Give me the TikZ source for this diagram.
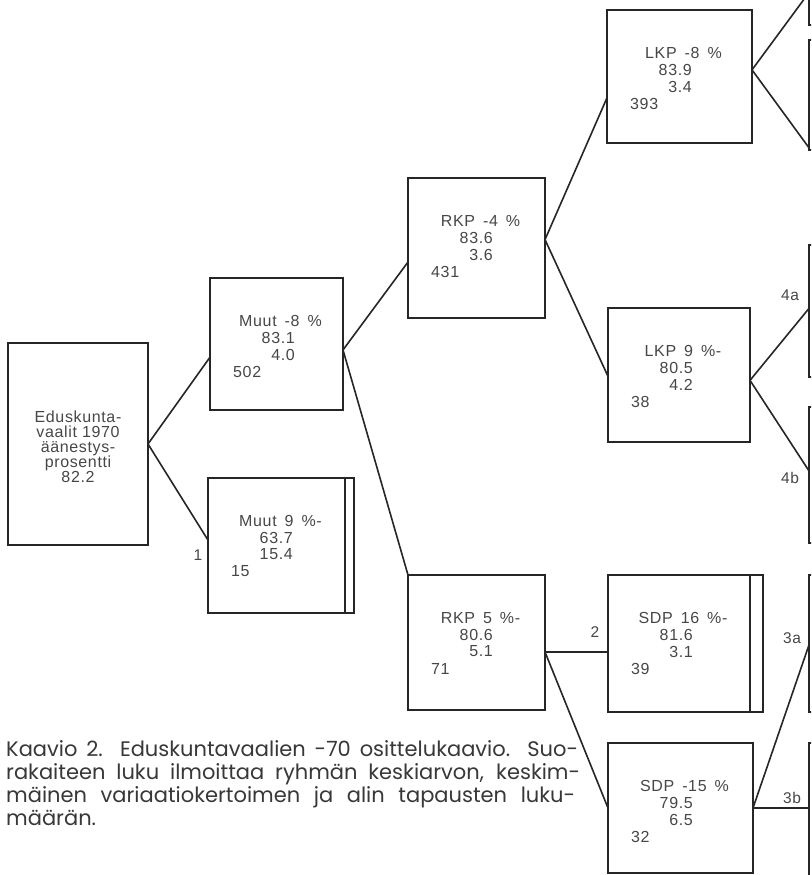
\documentclass[tikz,border=0pt]{standalone}
\usepackage{fontspec}
\setmainfont{Liberation Sans}[LetterSpace=4]
\newfontfamily\capfont{Poppins}
\usetikzlibrary{calc}
\definecolor{ink}{gray}{0.15}
\definecolor{tink}{gray}{0.28}
\newcommand\widesp{\spaceskip=0.5em\relax}
\newcommand\btext[5]{%
  \node[txt, anchor=center] (#1-a) at ($(#1.north)+(4,43)$) {\widesp #2};
  \node[txt, anchor=east] (#1-b) at ($(#1.north west)+(85,60)$) {#3};
  \node[txt, anchor=east] (#1-c) at ($(#1.north west)+(85,76.5)$) {#4};
  \node[txt, anchor=west] (#1-d) at ($(#1.north west)+(23,93.5)$) {#5};
}
\begin{document}
\begin{tikzpicture}[x=1pt,y=-1pt,
  box/.style={draw=ink, line width=2.2pt, rectangle, inner sep=0pt, outer sep=0pt, anchor=north west},
  edgebox/.style={draw=ink, line width=1.8pt, rectangle, inner sep=0pt, outer sep=0pt, anchor=north west, minimum width=60pt},
  conn/.style={draw=ink, line width=1.6pt},
  strip/.style={draw=ink, line width=2.2pt},
  txt/.style={font=\fontsize{16}{17}\selectfont, text=tink, inner sep=0pt},
  lbl/.style={font=\fontsize{15.5}{17}\selectfont, text=tink, inner sep=0pt},
  captext/.style={font=\capfont\fontsize{21}{23}\selectfont, text=black!78, inner sep=0pt, anchor=base west}]
\useasboundingbox (0,0) rectangle (811,875);
\clip (0,0) rectangle (811,875);
\fill[white] (0,0) rectangle (811,875);

% boxes
\node[box, minimum width=140pt, minimum height=202pt] (root) at (8,343) {};
\node[box, minimum width=133pt, minimum height=132pt] (muut8) at (210,278) {};
\node[box, minimum width=137pt, minimum height=135pt] (muut9) at (208,478) {};
\node[box, minimum width=137pt, minimum height=140pt] (rkp4) at (408,178) {};
\node[box, minimum width=137pt, minimum height=135pt] (rkp5) at (408,575) {};
\node[box, minimum width=145pt, minimum height=133pt] (lkp8) at (607,10) {};
\node[box, minimum width=142pt, minimum height=134pt] (lkp9) at (608,308) {};
\node[box, minimum width=142pt, minimum height=137pt] (sdp16) at (608,575) {};
\node[box, minimum width=145pt, minimum height=130pt] (sdp15) at (608,743) {};

\draw[strip] (muut9.north east) -- ++(9,0) |- (muut9.south east);
\draw[strip] (sdp16.north east) -- ++(13,0) |- (sdp16.south east);

% boxes of the next column, cut by the edge
\node[edgebox, minimum height=65pt] (rA) at (809,-40) {};
\node[edgebox, minimum height=110pt] (rB) at (809,40) {};
\node[edgebox, minimum height=132pt] (rC) at (809,245) {};
\node[edgebox, minimum height=136pt] (rD) at (809,407) {};
\node[edgebox, minimum height=137pt] (rE) at (809,575) {};
\node[edgebox, minimum height=150pt] (rF) at (809,743) {};

% texts
\node[txt, align=center, font=\fontsize{16}{15}\selectfont] (root-t) at ($(root.center)+(0,3)$) {Eduskunta-\\vaalit 1970\\äänestys-\\prosentti\\82.2};
\btext{muut8}{Muut -8 \%}{83.1}{4.0}{502}
\btext{muut9}{Muut 9 \%-}{63.7}{15.4}{15}
\btext{rkp4}{RKP -4 \%}{83.6}{3.6}{431}
\btext{rkp5}{RKP 5 \%-}{80.6}{5.1}{71}
\btext{lkp8}{LKP -8 \%}{83.9}{3.4}{393}
\btext{lkp9}{LKP 9 \%-}{80.5}{4.2}{38}
\btext{sdp16}{SDP 16 \%-}{81.6}{3.1}{39}
\btext{sdp15}{SDP -15 \%}{79.5}{6.5}{32}

% connectors
\draw[conn] (root.east) -- ($(muut8.north west)!0.6!(muut8.south west)$);
\draw[conn] (root.east) -- ($(muut9.north west)!0.46!(muut9.south west)$);
\coordinate (m8r) at ($(muut8.north east)!0.545!(muut8.south east)$);
\draw[conn] (m8r) -- ($(rkp4.north west)!0.6!(rkp4.south west)$);
\draw[conn] (m8r) -- (rkp5.north west);
\coordinate (r4r) at ($(rkp4.north east)!0.44!(rkp4.south east)$);
\draw[conn] (r4r) -- ($(lkp8.north west)!0.66!(lkp8.south west)$);
\draw[conn] (r4r) -- ($(lkp9.north west)!0.51!(lkp9.south west)$);
\coordinate (l8r) at ($(lkp8.north east)!0.45!(lkp8.south east)$);
\draw[conn] (l8r) -- (rA.west);
\draw[conn] (l8r) -- ($(rB.north west)!0.98!(rB.south west)$);
\coordinate (l9r) at ($(lkp9.north east)!0.54!(lkp9.south east)$);
\draw[conn] (l9r) -- ($(rC.north west)!0.48!(rC.south west)$);
\draw[conn] (l9r) -- ($(rD.north west)!0.47!(rD.south west)$);
\coordinate (r5r) at ($(rkp5.north east)!0.57!(rkp5.south east)$);
\draw[conn] (r5r) -- (r5r -| sdp16.west);
\draw[conn] (r5r) -- (sdp15.west);
\draw[conn] (sdp15.east) -- ($(rE.north west)!0.51!(rE.south west)$);
\draw[conn] (sdp15.east) -- (sdp15.east -| rF.west);

% labels
\node[lbl] (l1) at (198,555) {1};
\node[lbl] (l2) at (595,632) {2};
\node[lbl] (l4a) at (790,295) {4a};
\node[lbl] (l4b) at (790,478) {4b};
\node[lbl] (l3a) at (792,638) {3a};
\node[lbl] (l3b) at (792,798) {3b};

% caption
\node[captext] (cap1) at (6,756) {\makebox[572pt][s]{Kaavio 2. Eduskuntavaalien -70 osittelukaavio. Suo-}};
\node[captext] (cap2) at (6,779) {\makebox[574pt][s]{rakaiteen luku ilmoittaa ryhmän keskiarvon, keskim-}};
\node[captext] (cap3) at (6,802) {\makebox[569pt][s]{mäinen variaatiokertoimen ja alin tapausten luku-}};
\node[captext] (cap4) at (6,825) {määrän.};
\end{tikzpicture}
\end{document}
